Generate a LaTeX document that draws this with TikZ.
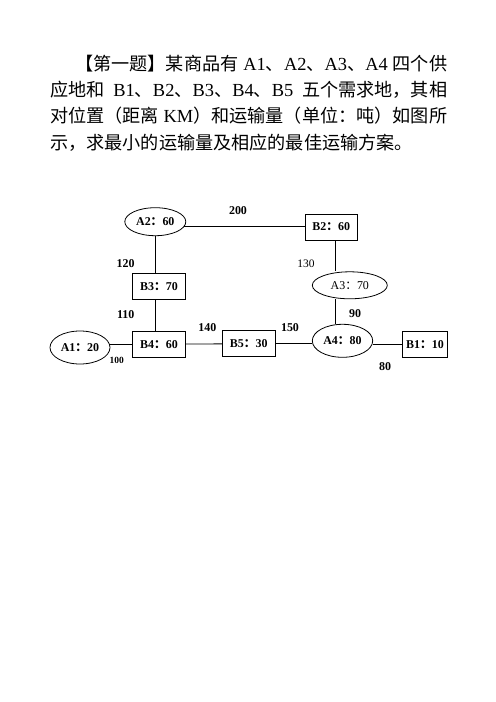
\documentclass[tikz,border=0pt]{standalone}
\usepackage{fontspec}
\setmainfont{Liberation Serif}
\newfontfamily\cjk[Scale=0.984]{Noto Sans CJK SC}
\usetikzlibrary{shapes.geometric, positioning}
\tikzset{
  supply/.style={ellipse, draw, inner sep=0pt, line width=0.8pt,
    font=\fontsize{12}{14}\selectfont\bfseries},
  demand/.style={rectangle, draw, inner sep=0pt, minimum height=26bp,
    line width=0.8pt, font=\fontsize{12}{14}\selectfont\bfseries},
  dist/.style={inner sep=0pt, font=\fontsize{12}{14}\selectfont\bfseries},
  para/.style={inner sep=0pt, anchor=base west, font=\fontsize{18.5}{26}\selectfont},
  link/.style={line width=0.8pt}
}
\newcommand{\zh}[1]{{\cjk #1}}
\newcommand{\cc}{\zh{：}}

\begin{document}
\begin{tikzpicture}[x=1bp, y=-1bp]
  \useasboundingbox (0,0) rectangle (496,702);

  % Text
  \node[para] (line1) at (75, 71) {\makebox[372bp][s]{\zh{【第一题】某商品有} A1\zh{、}A2\zh{、}A3\zh{、}A4 \zh{四个供}}};
  \node[para] (line2) at (50, 97) {\makebox[397bp][s]{\zh{应地和} B1\zh{、}B2\zh{、}B3\zh{、}B4\zh{、}B5 \zh{五个需求地，其相}}};
  \node[para] (line3) at (50, 123) {\makebox[397bp][s]{\zh{对位置（距离} KM\zh{）和运输量（单位：吨）如图所}}};
  \node[para] (line4) at (50, 149) {\zh{示，求最小的运输量及相应的最佳运输方案。}};

  % Supply points
  \node[supply, minimum width=61bp, minimum height=28bp] (a2) at (155.3, 221.7) {A2\cc 60};
  \node[supply, minimum width=60bp, minimum height=33bp] (a1) at (80, 347.5) {A1\cc 20};
  \node[supply, minimum width=75bp, minimum height=27bp, font=\fontsize{12}{14}\selectfont] (a3) at (349.8, 285.3) {A3\cc 70};
  \node[supply, minimum width=60.4bp, minimum height=33bp] (a4) at (342.5, 340.8) {A4\cc 80};

  % Demand points
  \node[demand, minimum width=52.3bp] (b2) at (331.2, 227) {B2\cc 60};
  \node[demand, minimum width=53.4bp] (b3) at (159, 286.3) {B3\cc 70};
  \node[demand, minimum width=53.4bp] (b4) at (159, 344.2) {B4\cc 60};
  \node[demand, minimum width=52.7bp] (b5) at (248.7, 343.7) {B5\cc 30};
  \node[demand, minimum width=44.6bp] (b1) at (425, 344.2) {B1\cc 10};

  % Distances
  \node[dist] (d200) at (238, 210.7) {200};
  \node[dist] (d120) at (125.7, 263.3) {120};
  \node[dist] (d110) at (125.7, 315) {110};
  \node[dist, font=\fontsize{9.5}{11}\selectfont\bfseries] (d100) at (116.7, 360.7) {100};
  \node[dist] (d140) at (207.3, 327.7) {140};
  \node[dist] (d150) at (290, 327.3) {150};
  \node[dist, font=\fontsize{11.5}{13}\selectfont] (d130) at (306, 263.3) {130};
  \node[dist] (d90) at (355, 314) {90};
  \node[dist] (d80) at (385, 366.7) {80};

  % Connections
  \draw[link] (a2.-10) -- (a2.-10 -| b2.west);
  \draw[link] (a2) -- (a2 |- b3.north);
  \draw[link] (a2 |- b3.south) -- (a2 |- b4.north);
  \draw[link] (b4.west) -- (b4.west -| a1.east);
  \draw[link] (b4) -- (b5);
  \draw[link] (b5.east) -- (b5.east -| a4.west);
  \draw[link] (b1.west) -- (b1.west -| a4.east);
  \draw[link] ([xshift=4.5bp]b2.south) -- ([xshift=4.5bp]b2.south |- a3.north);
  \draw[link] ([xshift=4.5bp]b2.south |- a3.south) -- ([xshift=4.5bp]b2.south |- a4.north);
\end{tikzpicture}
\end{document}
